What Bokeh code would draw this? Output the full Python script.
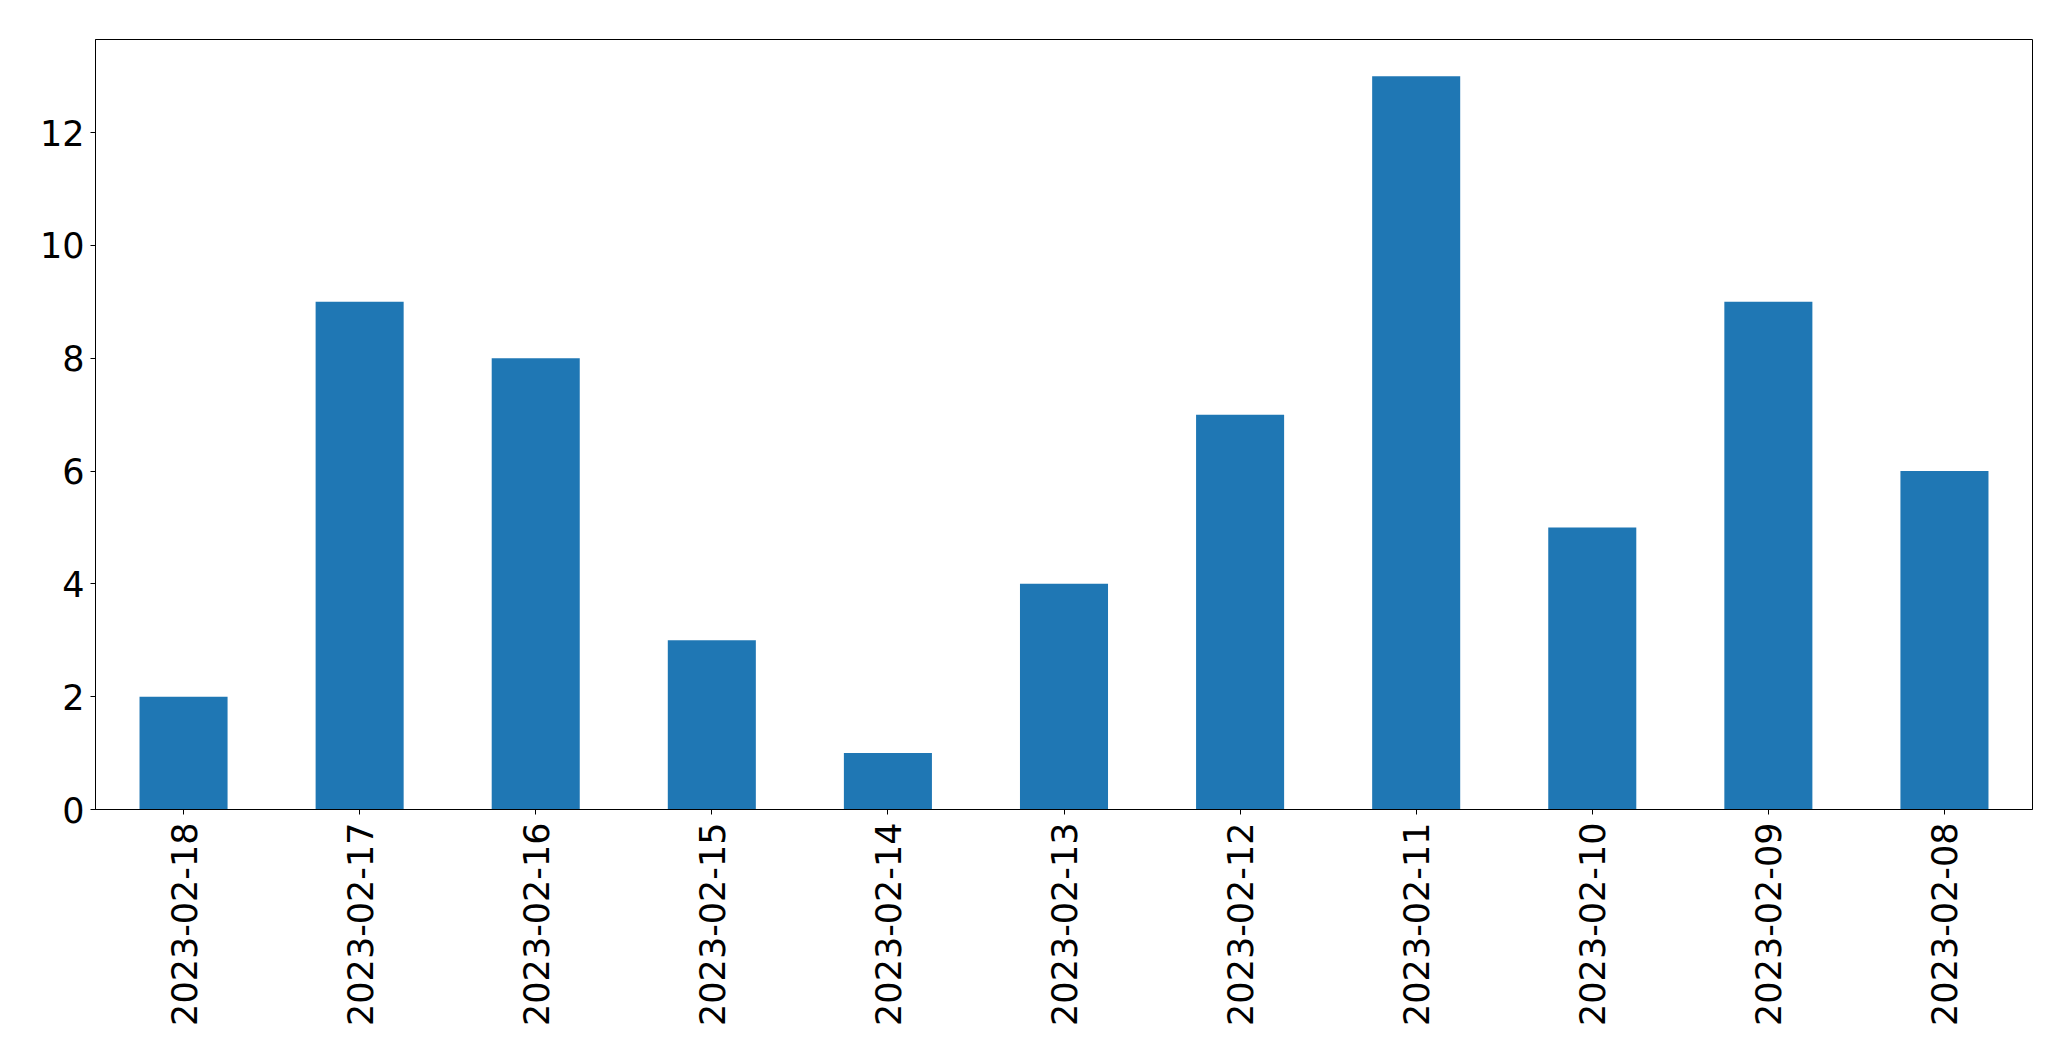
import math
from bokeh.plotting import figure
from bokeh.models import FactorRange, Range1d, ColumnDataSource, FixedTicker
from bokeh.embed import file_html
from bokeh.resources import INLINE

dates = ["2023-02-18", "2023-02-17", "2023-02-16", "2023-02-15", "2023-02-14",
         "2023-02-13", "2023-02-12", "2023-02-11", "2023-02-10", "2023-02-09",
         "2023-02-08"]
counts = [2, 9, 8, 3, 1, 4, 7, 13, 5, 9, 6]
y_ticks = [0, 2, 4, 6, 8, 10, 12]

src = ColumnDataSource(dict(date=dates, count=counts))

p = figure(
    x_range=FactorRange(factors=dates, range_padding=0),
    y_range=Range1d(0, max(counts) * 1.05),
    frame_width=1937, frame_height=770,
    min_border_left=95, min_border_right=31, min_border_top=39, min_border_bottom=200,
    output_backend="svg", toolbar_location=None,
)
p.vbar(x="date", top="count", width=0.5, source=src, color="#1f77b4", line_color=None)

p.xgrid.visible = False
p.ygrid.visible = False
p.outline_line_color = "black"
p.outline_line_width = 1
p.outline_line_alpha = 1
p.background_fill_color = "white"
p.border_fill_color = "white"

for ax in (p.xaxis[0], p.yaxis[0]):
    ax.axis_line_color = "black"
    ax.axis_line_width = 1
    ax.major_tick_line_color = "black"
    ax.major_tick_out = 5
    ax.major_tick_in = 0
    ax.minor_tick_line_color = None
    ax.major_label_text_font = "DejaVu Sans"
    ax.major_label_text_font_size = "35px"
    ax.major_label_text_color = "black"

p.yaxis[0].ticker = FixedTicker(ticks=y_ticks)
p.yaxis[0].major_label_standoff = 6
p.xaxis[0].major_label_orientation = math.pi / 2
p.xaxis[0].major_label_standoff = 8

open("out.html", "w").write(file_html(p, INLINE))
